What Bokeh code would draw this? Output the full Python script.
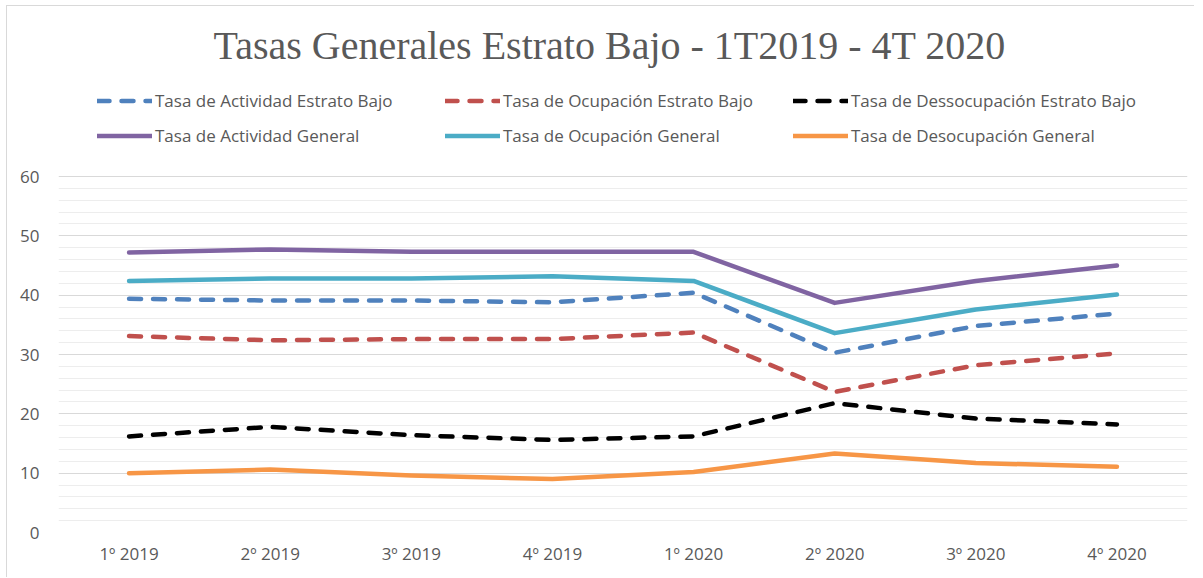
from bokeh.plotting import figure
from bokeh.models import FactorRange, FixedTicker, Legend, LegendItem, Title, Range1d
from bokeh.embed import file_html
from bokeh.resources import INLINE

categories = ["1º 2019", "2º 2019", "3º 2019", "4º 2019", "1º 2020", "2º 2020", "3º 2020", "4º 2020"]

act_bajo = [39.4, 39.1, 39.1, 38.8, 40.4, 30.3, 34.8, 36.9]
ocu_bajo = [33.1, 32.4, 32.6, 32.6, 33.7, 23.7, 28.2, 30.2]
des_bajo = [16.2, 17.8, 16.4, 15.6, 16.2, 21.8, 19.2, 18.2]
act_gen = [47.2, 47.7, 47.3, 47.3, 47.3, 38.7, 42.4, 45.0]
ocu_gen = [42.4, 42.8, 42.8, 43.2, 42.4, 33.6, 37.6, 40.1]
des_gen = [10.0, 10.6, 9.6, 9.0, 10.2, 13.3, 11.7, 11.1]

labels = [
    "Tasa de Actividad Estrato Bajo",
    "Tasa de Ocupación Estrato Bajo",
    "Tasa de Dessocupación Estrato Bajo",
    "Tasa de Actividad General",
    "Tasa de Ocupación General",
    "Tasa de Desocupación General",
]
y_ticks = [0, 10, 20, 30, 40, 50, 60]
y_minor = [2, 4, 6, 8, 12, 14, 16, 18, 22, 24, 26, 28, 32, 34, 36, 38, 42, 44, 46, 48, 52, 54, 56, 58]

series = [act_bajo, ocu_bajo, des_bajo, act_gen, ocu_gen, des_gen]
colors = ["#4f81bd", "#c0504d", "#000000", "#8064a2", "#4bacc6", "#f79646"]
dashes = ["12 12", "12 12", "12 12", "solid", "solid", "solid"]

TEXT = "#595959"

# frame extends above the 60 gridline to host the legend
p = figure(
    x_range=FactorRange(factors=categories, range_padding=0),
    y_range=Range1d(0, 77.53),
    width=1188, height=572,
    output_backend="svg", toolbar_location=None,
    min_border_left=51, min_border_right=8, min_border_top=66, min_border_bottom=46,
    title=None,
)
p.styles = {"margin-left": "6px", "margin-top": "5px",
            "border-left": "1px solid #d9d9d9", "border-top": "1px solid #d9d9d9"}
p.outline_line_color = None

renderers = []
for vals, c, d in zip(series, colors, dashes):
    r = p.line(categories, vals, line_color=c, line_width=4.5, line_dash=d,
               line_cap="round", line_join="round")
    renderers.append(r)

# axes
p.yaxis.ticker = FixedTicker(ticks=y_ticks, minor_ticks=y_minor)
p.yaxis.axis_line_color = None
p.yaxis.major_tick_line_color = None
p.yaxis.minor_tick_line_color = None
p.yaxis.major_label_text_color = TEXT
p.yaxis.major_label_text_font = "Open Sans"
p.yaxis.major_label_text_font_size = "17px"
p.yaxis.major_label_standoff = 13

p.xaxis.axis_line_color = None
p.xaxis.major_tick_line_color = None
p.xaxis.minor_tick_line_color = None
p.xaxis.major_label_text_color = TEXT
p.xaxis.major_label_text_font = "Open Sans"
p.xaxis.major_label_text_font_size = "17px"
p.xaxis.major_label_standoff = 3

p.xgrid.grid_line_color = None
p.ygrid.grid_line_color = "#d9d9d9"
p.ygrid.grid_line_width = 1
p.ygrid.minor_grid_line_color = "#ededed"
p.ygrid.minor_grid_line_width = 1

items = [LegendItem(label=l, renderers=[r]) for l, r in zip(labels, renderers)]
legend = Legend(
    items=items, orientation="horizontal", ncols=3,
    glyph_width=55, glyph_height=25, label_height=25, label_standoff=3, label_width=280,
    spacing=10, padding=0, margin=0, location=(39, 384),
    border_line_color=None, background_fill_alpha=0,
    label_text_font="Open Sans", label_text_font_size="17px", label_text_color=TEXT,
)
p.add_layout(legend, "center")
p.add_layout(Title(text="Tasas Generales Estrato Bajo - 1T2019 - 4T 2020", align="left",
                   text_font="Liberation Serif", text_font_size="40px", text_font_style="normal",
                   text_color=TEXT, standoff=10, offset=155), "above")

open("out.html", "w").write(file_html(p, INLINE))
